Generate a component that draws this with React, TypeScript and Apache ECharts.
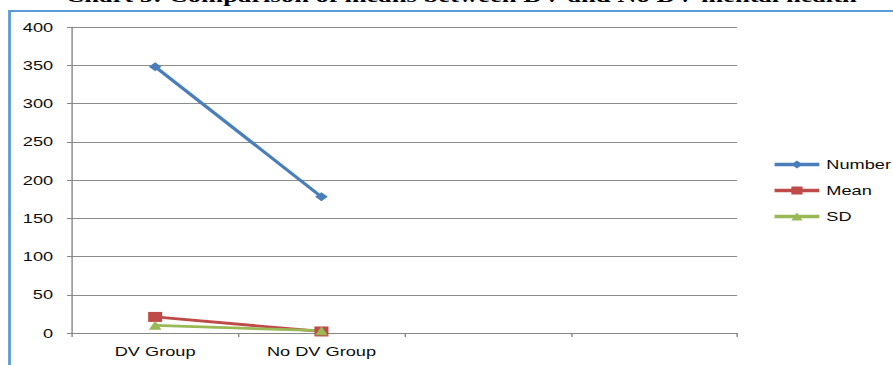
import { useEffect, useRef } from 'react';
import * as echarts from 'echarts';

// Chart data
const categories = ['DV Group', 'No DV Group', '', ''];
const numberValues = [348, 178];
const meanValues = [21, 2];
const sdValues = [10, 3];
const yMin = 0;
const yMax = 400;
const yStep = 50;
const titleText = 'Chart 5: Comparison of means between DV and No DV mental health';

// The chart is laid out in a narrower box and widened horizontally.
const STRETCH = 1.4;
const WIDTH = 893;
const HEIGHT = 365;
const INNER_W = WIDTH / STRETCH;

const FONT = '"Liberation Sans", Arial, sans-serif';
const TEXT_COLOR = '#0d0d0d';

export default function App() {
  const ref = useRef<HTMLDivElement>(null);

  useEffect(() => {
    if (!ref.current) return;
    const chart = echarts.init(ref.current, null, { renderer: 'svg' });
    const gridLeft = 72 / STRETCH;
    const gridRight = INNER_W - 737 / STRETCH;

    chart.setOption({
      animation: false,
      backgroundColor: '#ffffff',
      textStyle: { fontFamily: FONT },
      grid: { left: gridLeft, right: gridRight, top: 27, bottom: HEIGHT - 333, containLabel: false },
      legend: {
        orient: 'vertical',
        left: 546.5,
        top: 153,
        itemWidth: 32,
        itemHeight: 10,
        itemGap: 13,
        lineStyle: { width: 3.5 },
        textStyle: { fontSize: 13, color: TEXT_COLOR, fontFamily: FONT },
        data: ['Number', 'Mean', 'SD'],
      },
      xAxis: {
        type: 'category',
        data: categories,
        boundaryGap: true,
        axisLine: { show: true, lineStyle: { color: '#868686', width: 1 } },
        axisTick: { show: true, length: 4, lineStyle: { color: '#868686' } },
        axisLabel: { color: TEXT_COLOR, fontSize: 13, margin: 12, fontFamily: FONT, interval: 0 },
        splitLine: { show: false },
      },
      yAxis: {
        type: 'value',
        min: yMin,
        max: yMax,
        interval: yStep,
        axisLine: { show: true, lineStyle: { color: '#868686', width: 1 } },
        axisTick: { show: true, length: 3.6, lineStyle: { color: '#868686' } },
        axisLabel: { color: TEXT_COLOR, fontSize: 13, margin: 13.5, fontFamily: FONT },
        splitLine: { show: true, lineStyle: { color: '#8c8c8c', width: 1 } },
      },
      series: [
        {
          name: 'Number',
          type: 'line',
          data: numberValues,
          symbol: 'diamond',
          symbolSize: 9,
          color: '#4a7ebb',
          lineStyle: { width: 2.75, color: '#4a7ebb' },
          itemStyle: { color: '#4a7ebb' },
        },
        {
          name: 'Mean',
          type: 'line',
          data: meanValues,
          symbol: 'rect',
          symbolSize: 10,
          color: '#be4b48',
          lineStyle: { width: 2.75, color: '#be4b48' },
          itemStyle: { color: '#be4b48' },
        },
        {
          name: 'SD',
          type: 'line',
          data: sdValues,
          symbol: 'triangle',
          symbolSize: 9,
          color: '#98b954',
          lineStyle: { width: 2.75, color: '#98b954' },
          itemStyle: { color: '#98b954' },
        },
      ],
      graphic: [
        {
          type: 'polyline',
          silent: true,
          shape: { points: [[6.8, HEIGHT + 5], [6.8, 11], [INNER_W + 5, 11]] },
          style: { stroke: '#5b9bd5', lineWidth: 2, fill: null },
        },
        {
          type: 'text',
          silent: true,
          x: 461 / STRETCH,
          y: -4.5,
          style: {
            text: titleText,
            fontFamily: '"Liberation Serif", "Times New Roman", serif',
            fontWeight: 'bold',
            fontSize: 19,
            fill: '#000000',
            textAlign: 'center',
            textVerticalAlign: 'middle',
          },
        },
      ],
    });

    return () => chart.dispose();
  }, []);

  return (
    <div
      style={{
        position: 'fixed',
        left: 0,
        top: 0,
        width: WIDTH,
        height: HEIGHT,
        overflow: 'hidden',
        background: '#ffffff',
      }}
    >
      <div
        ref={ref}
        style={{
          width: INNER_W,
          height: HEIGHT,
          transform: `scaleX(${STRETCH})`,
          transformOrigin: '0 0',
        }}
      />
    </div>
  );
}
